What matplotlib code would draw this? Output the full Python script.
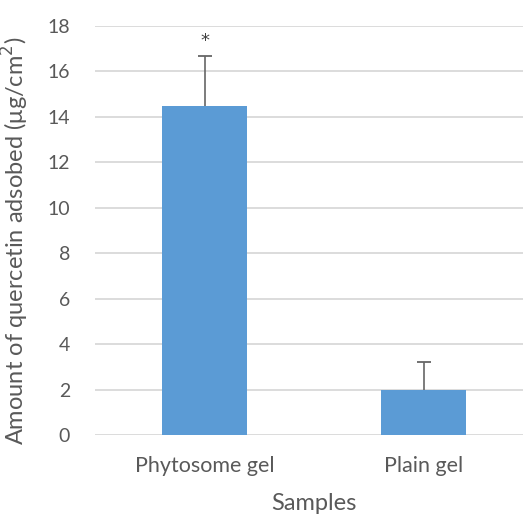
import matplotlib
matplotlib.use("Agg")
import matplotlib.pyplot as plt

# data
samples = ["Phytosome gel", "Plain gel"]
adsorbed = [14.5, 2.0]          # µg/cm2
sd_upper = [2.2, 1.2]           # upper error only
stars = ["*", ""]

bar_color = "#5b9bd5"
text_color = "#595959"
grid_color = "#d9d9d9"

plt.rcParams['font.family'] = ['Lato', 'DejaVu Sans']

fig = plt.figure(figsize=(5.23, 5.17), dpi=100)
# plot area runs a bit past the right edge, like the cropped original
ax = fig.add_axes([95 / 523, 82 / 517, 438 / 523, 409 / 517])

xs = range(len(samples))
ax.bar(xs, adsorbed, width=0.39, color=bar_color, zorder=2)

# only the upper half of the error bars
_, caps, _ = ax.errorbar(xs, adsorbed, yerr=[[0] * len(samples), sd_upper],
                         fmt='none', ecolor="#666666", elinewidth=1.2,
                         capsize=5, capthick=1.3, zorder=3)
caps[0].set_visible(False)

for x, y, e, s in zip(xs, adsorbed, sd_upper, stars):
    if s:
        ax.text(x, y + e + 0.25, s, ha='center', va='bottom',
                fontsize=13, color="#404040", family='DejaVu Sans')

ax.set_xlim(-0.5, 1.5)
ax.set_ylim(0, 18)
ax.set_yticks(range(0, 19, 2))
ax.set_xticks(list(xs))
ax.set_xticklabels(samples)

ax.yaxis.grid(True, color=grid_color, linewidth=1.3, zorder=0)
ax.set_axisbelow(True)
for sp in ax.spines.values():
    sp.set_visible(False)
ax.tick_params(axis='both', length=0, colors=text_color)
ax.tick_params(axis='y', pad=18, labelsize=14)
ax.tick_params(axis='x', pad=15, labelsize=15.5)

ax.set_xlabel("Samples", fontsize=17, color=text_color)
ax.xaxis.set_label_coords(0.5, -0.142)
ax.set_ylabel("Amount of quercetin adsobed (μg/cm$^2$)", fontsize=17,
              color=text_color)
ax.yaxis.set_label_coords(-0.145, 0.475)

fig.savefig("out.png", dpi=100)
